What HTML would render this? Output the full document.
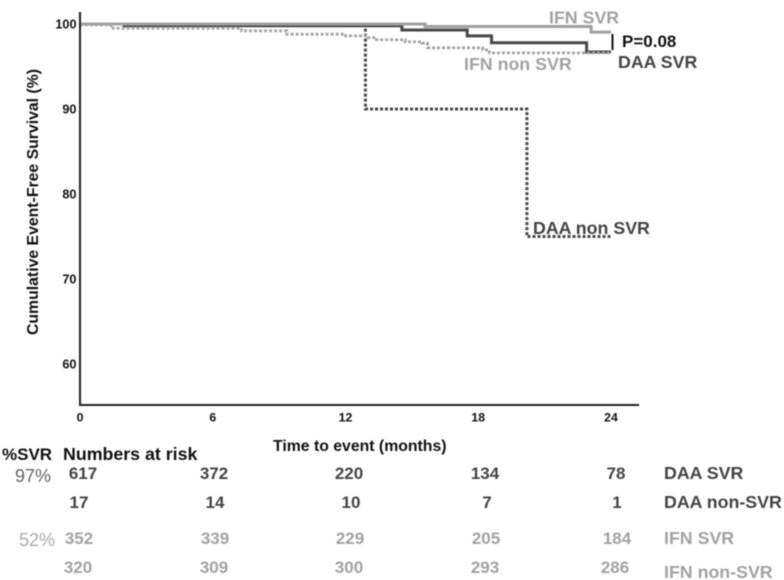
<!DOCTYPE html>
<html>
<head>
<meta charset="utf-8">
<title>Cumulative Event-Free Survival</title>
<style>
html,body{margin:0;padding:0;background:#fff;}
svg{display:block;filter:blur(0.4px);}
text{font-family:"Liberation Sans",sans-serif;font-weight:bold;}
.dark{fill:#444;}
.light{fill:#a2a2a2;}
.lab{font-size:17.8px;}
.num{font-size:17px;text-anchor:middle;}
</style>
</head>
<body>
<svg id="chart" xmlns="http://www.w3.org/2000/svg" width="784" height="580" viewBox="0 0 784 580">
  <rect width="784" height="580" fill="#fff"/>
  <g id="curves"></g>
  <line x1="80" y1="12" x2="80" y2="405.5" stroke="#222" stroke-width="2"/>
  <line x1="79" y1="405" x2="639" y2="405" stroke="#222" stroke-width="2"/>
  <g id="ticks"></g>

  <text transform="translate(38,335) rotate(-90)" font-size="15.8" fill="#111">Cumulative Event-Free Survival (%)</text>
  <text x="273" y="451" font-size="15.8" fill="#111">Time to event (months)</text>

  <text class="lab light" x="549" y="23.5">IFN SVR</text>
  <text class="lab light" x="464" y="70">IFN non SVR</text>
  <text class="lab dark" x="618" y="68">DAA SVR</text>
  <text class="lab dark" x="533" y="234">DAA non SVR</text>
  <line x1="612.5" y1="34" x2="612.5" y2="50" stroke="#111" stroke-width="2"/>
  <text x="622" y="47" font-size="17" fill="#111">P=0.08</text>

  <text x="2" y="460" font-size="17" fill="#111">%SVR</text>
  <text x="63" y="460" font-size="17.8" fill="#111">Numbers at risk</text>

  <text x="15" y="482" font-size="18" style="font-weight:normal" fill="#666">97%</text>
  <text x="19" y="546" font-size="18" style="font-weight:normal" fill="#aaa">52%</text>

  <g class="dark">
    <text class="num" x="83" y="479">617</text><text class="num" x="214" y="479">372</text><text class="num" x="349" y="479">220</text><text class="num" x="485" y="479">134</text><text class="num" x="616" y="479">78</text>
    <text class="lab" x="664" y="479">DAA SVR</text>
  </g>
  <g class="dark">
    <text class="num" x="79" y="508">17</text><text class="num" x="215" y="508">14</text><text class="num" x="351" y="508">10</text><text class="num" x="487" y="508">7</text><text class="num" x="617" y="508">1</text>
    <text class="lab" x="664" y="508">DAA non-SVR</text>
  </g>
  <g class="light">
    <text class="num" x="79" y="544">352</text><text class="num" x="215" y="544">339</text><text class="num" x="350" y="544">229</text><text class="num" x="486" y="544">205</text><text class="num" x="617" y="544">184</text>
    <text class="lab" x="664" y="544">IFN SVR</text>
  </g>
  <g class="light">
    <text class="num" x="78" y="573">320</text><text class="num" x="214" y="573">309</text><text class="num" x="349" y="573">300</text><text class="num" x="485" y="573">293</text><text class="num" x="615" y="573">286</text>
    <text class="lab" x="664" y="578">IFN non-SVR</text>
  </g>
</svg>
<script>
var xTicks = [0, 6, 12, 18, 24];
var yTicks = [100, 90, 80, 70, 60];

var daaNonSvrMonths = [0, 12.9, 20.2, 24];
var daaNonSvrValues = [100, 90, 75, 75];

var ifnNonSvrMonths = [0, 1.4, 7.3, 9.35, 12, 13, 13.4, 14.7, 15.45, 15.7, 18.2, 18.5, 24];
var ifnNonSvrValues = [99.9, 99.5, 99.2, 98.8, 98.6, 98.4, 98.15, 97.9, 97.75, 97.2, 96.95, 96.6, 96.6];

var daaSvrMonths = [0, 2, 14.55, 17.5, 18.6, 22.9, 24];
var daaSvrValues = [100, 99.8, 99.3, 98.6, 97.8, 96.7, 96.7];

var ifnSvrMonths = [0, 15.6, 23.1, 24];
var ifnSvrValues = [100, 99.7, 99.05, 99.05];

function xScale(m) { return 80 + m * 22.125; }
function yScale(v) { return 24 + (100 - v) * 8.5; }

function stepPath(months, values) {
  var d = 'M' + xScale(months[0]) + ' ' + yScale(values[0]);
  for (var i = 1; i < months.length; i++) {
    d += 'H' + xScale(months[i]) + 'V' + yScale(values[i]);
  }
  return d;
}

var NS = 'http://www.w3.org/2000/svg';
var curves = document.getElementById('curves');
var ticks = document.getElementById('ticks');

function addCurve(name, months, values, color, width, dash) {
  var p = document.createElementNS(NS, 'path');
  
  
  p.setAttribute('d', stepPath(months, values));
  p.setAttribute('fill', 'none');
  p.setAttribute('stroke', color);
  p.setAttribute('stroke-width', width);
  if (dash) p.setAttribute('stroke-dasharray', dash);
  curves.appendChild(p);
}

addCurve('curve-daa-non-svr', daaNonSvrMonths, daaNonSvrValues, '#4a4a4a', 3, '3 2');
addCurve('curve-daa-svr', daaSvrMonths, daaSvrValues, '#484848', 3, null);
addCurve('curve-ifn-svr', ifnSvrMonths, ifnSvrValues, '#a0a0a0', 3, null);
addCurve('curve-ifn-non-svr', ifnNonSvrMonths, ifnNonSvrValues, '#a4a4a4', 2.8, '3 2');

xTicks.forEach(function (m) {
  var t = document.createElementNS(NS, 'text');
  
  
  t.setAttribute('x', xScale(m));
  t.setAttribute('y', 421.5);
  t.setAttribute('font-size', '12.3');
  t.setAttribute('fill', '#111');
  t.setAttribute('text-anchor', 'middle');
  t.textContent = m;
  ticks.appendChild(t);
});

yTicks.forEach(function (v) {
  var t = document.createElementNS(NS, 'text');
  
  
  t.setAttribute('x', 76.5);
  t.setAttribute('y', yScale(v) + 4.5);
  t.setAttribute('font-size', '12.7');
  t.setAttribute('fill', '#111');
  t.setAttribute('text-anchor', 'end');
  t.textContent = v;
  ticks.appendChild(t);
});
</script>
</body>
</html>
